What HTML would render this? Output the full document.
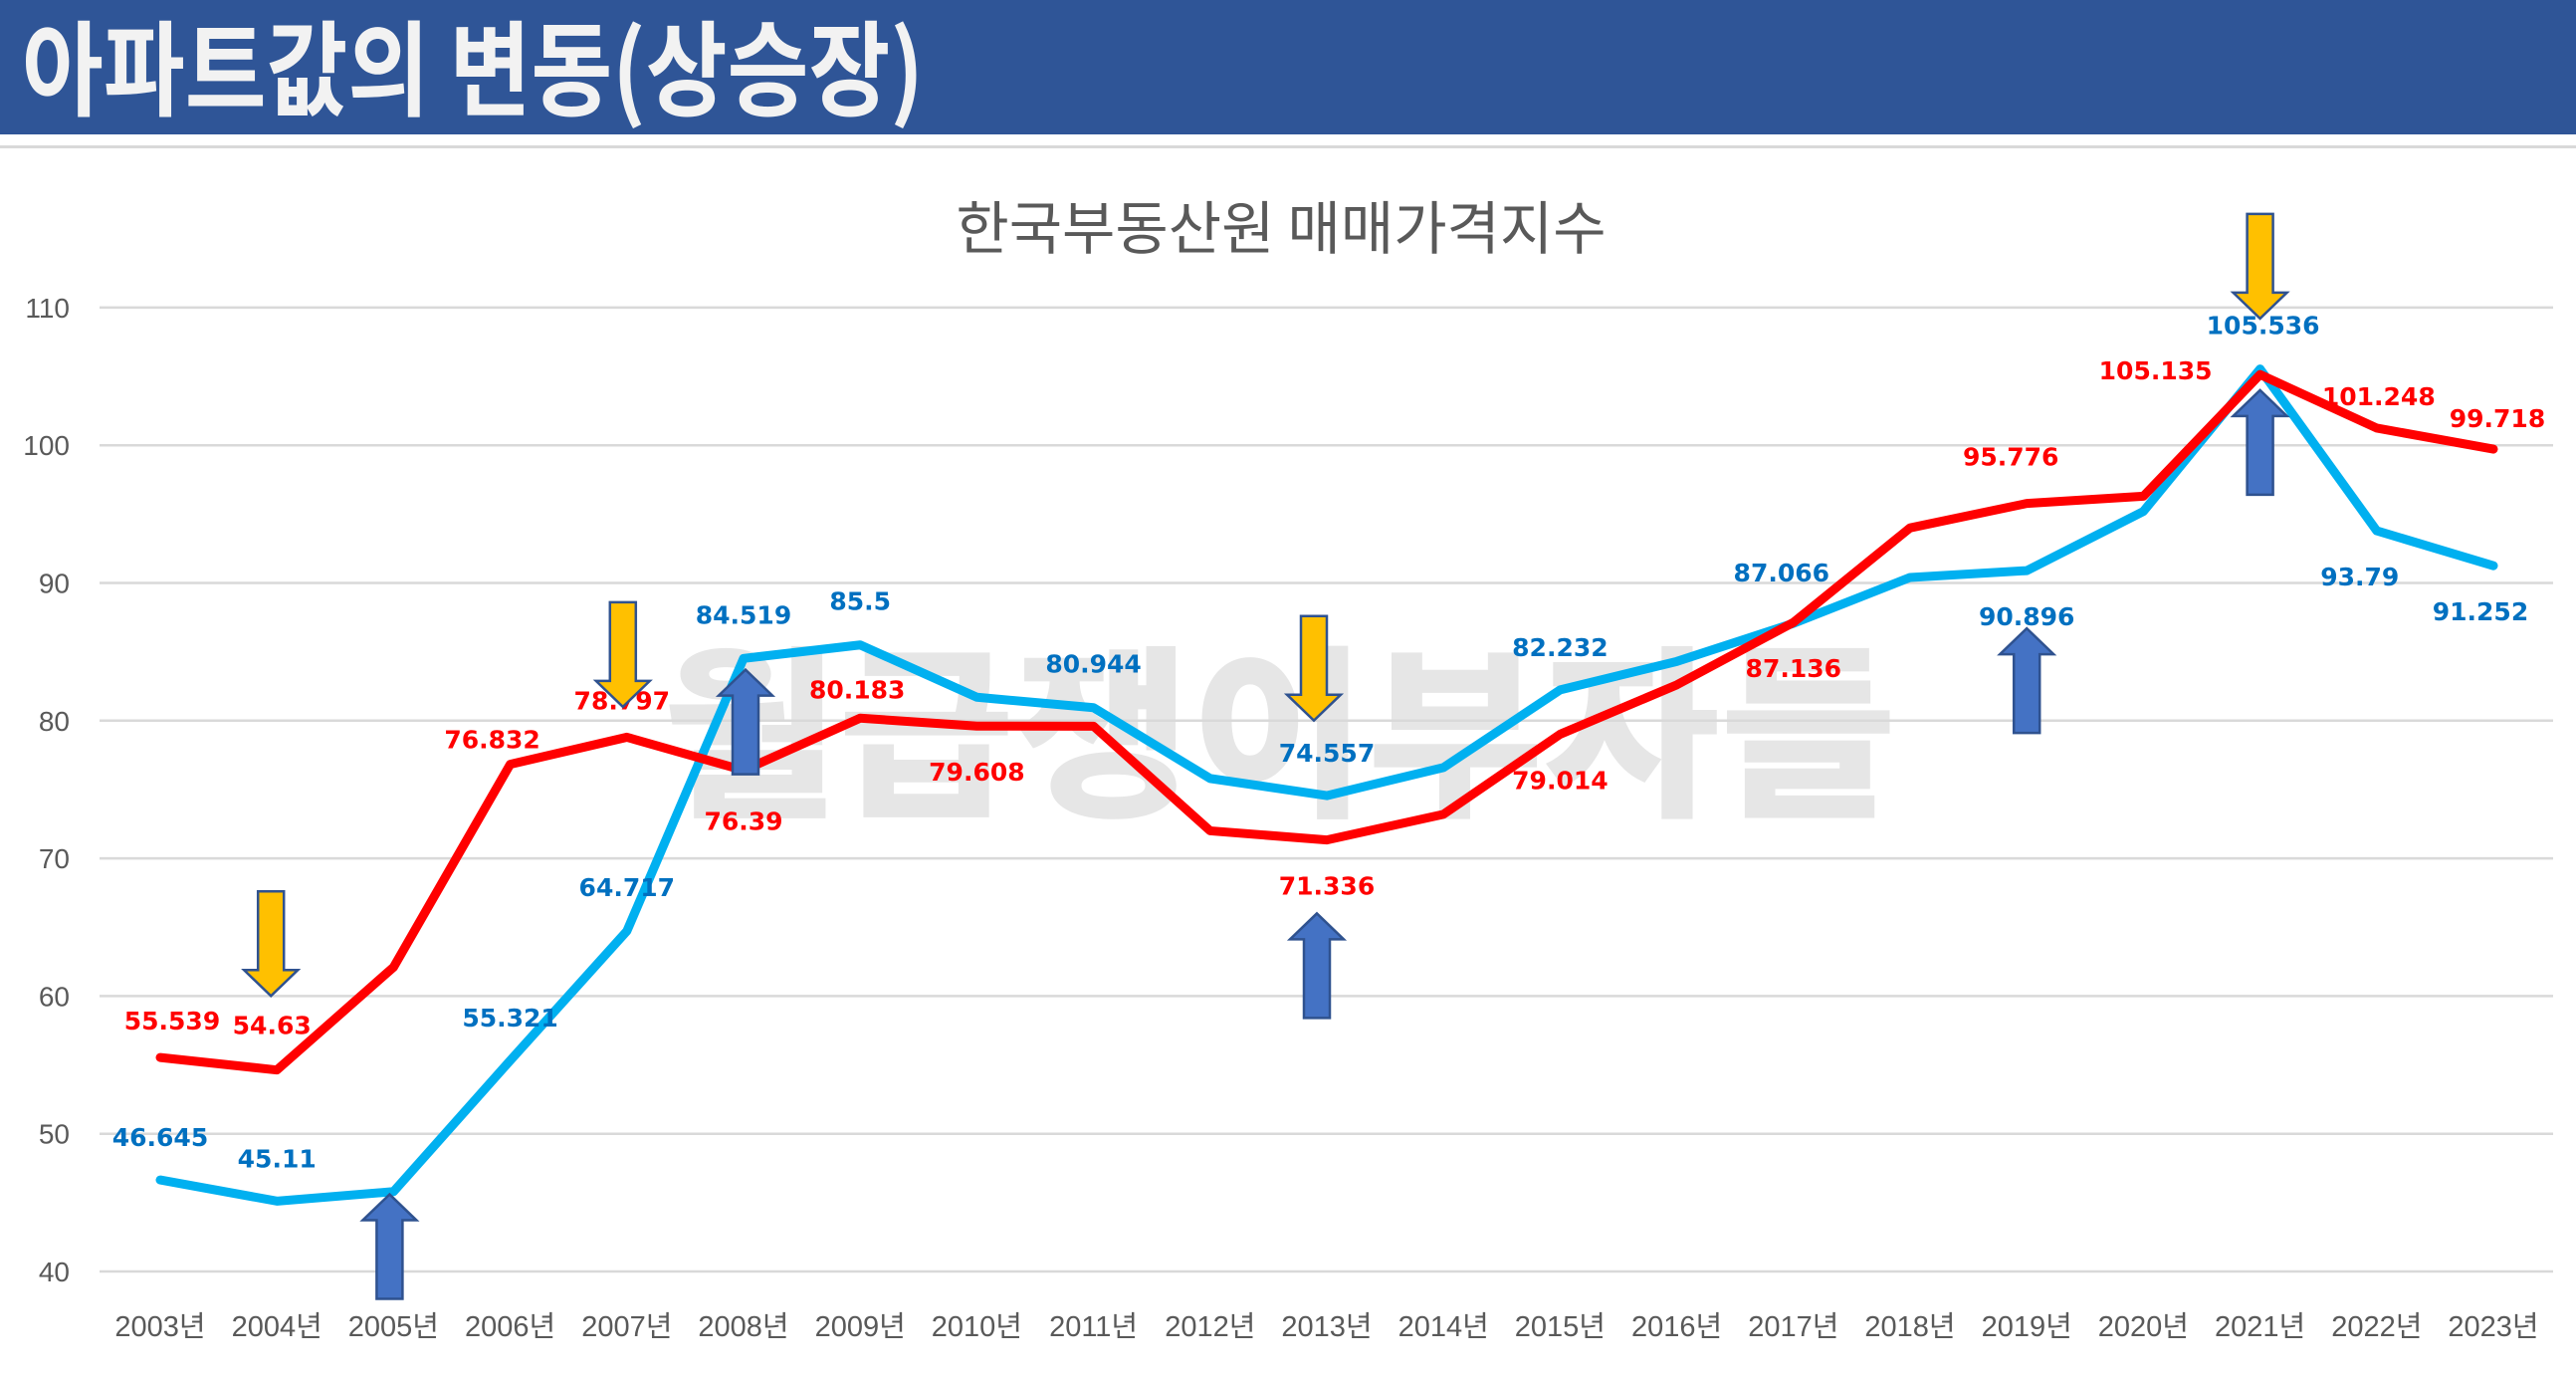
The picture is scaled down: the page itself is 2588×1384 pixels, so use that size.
<!DOCTYPE html>
<html><head><meta charset="utf-8">
<style>
html,body{margin:0;padding:0;background:#fff;}
body{width:2588px;height:1384px;overflow:hidden;}
svg{display:block;}
</style></head>
<body>
<svg id="chart" width="2588" height="1384" viewBox="0 0 2588 1384" xmlns="http://www.w3.org/2000/svg">
  <rect x="0" y="0" width="2588" height="135" fill="#2f5597"/>
  <text x="22" y="108" font-family="'Noto Sans CJK KR', sans-serif" font-weight="bold" font-size="104" fill="#f2f2f2" textLength="906" lengthAdjust="spacingAndGlyphs">아파트값의 변동(상승장)</text>
  <rect x="0" y="146" width="2588" height="3" fill="#d9d9d9"/>
  <text x="1285" y="805" text-anchor="middle" font-family="'Noto Sans CJK KR', sans-serif" font-weight="900" font-size="185" fill="#e6e6e6" textLength="1240" lengthAdjust="spacingAndGlyphs">월급쟁이부자들</text>
  <text x="1287" y="250" text-anchor="middle" font-family="'Noto Sans CJK KR', sans-serif" font-size="58" fill="#595959">한국부동산원 매매가격지수</text>
  <g id="grid"></g>
  <g id="xlabels"></g>
  <g id="lines"></g>
  <g id="labels"></g>
  <g id="arrows"></g>
</svg>
<script>
const years = ["2003년","2004년","2005년","2006년","2007년","2008년","2009년","2010년","2011년","2012년","2013년","2014년","2015년","2016년","2017년","2018년","2019년","2020년","2021년","2022년","2023년"];
const redValues = [55.539,54.63,62.1,76.832,78.797,76.39,80.183,79.608,79.6,72.0,71.336,73.2,79.014,82.6,87.136,94.0,95.776,96.3,105.135,101.248,99.718];
const blueValues = [46.645,45.11,45.8,55.321,64.717,84.519,85.5,81.7,80.944,75.8,74.557,76.6,82.232,84.3,87.066,90.4,90.896,95.2,105.536,93.79,91.252];
const yTicks = [40,50,60,70,80,90,100,110];
const redLabelIdx = [0,1,3,4,5,6,7,10,12,14,16,18,19,20];
const blueLabelIdx = [0,1,3,4,5,6,8,10,12,14,16,18,19,20];
// label offsets (px) relative to point
const redOff = {0:[12,-28],1:[-5,-36],3:[-18,-16],4:[-5,-28],5:[0,60],6:[-3,-20],7:[0,55],10:[0,55],12:[0,55],14:[0,55],16:[-16,-38],18:[-105,5],19:[2,-23],20:[4,-22]};
const blueOff = {0:[0,-34],1:[0,-34],3:[0,-34],4:[0,-35],5:[0,-35],6:[0,-35],8:[0,-35],10:[0,-34],12:[0,-34],14:[-12,-42],16:[0,55],18:[3,-35],19:[-17,55],20:[-13,55]};
const downArrows = [[1,67.6,-6],[4,88.6,-4],[10,87.6,-13],[18,116.8,0]]; // [index, top value, x nudge px]
const upArrows = [[2,45.6,-4],[5,83.7,2],[10,66,-10],[16,86.7,0],[18,104,0]];

const NS="http://www.w3.org/2000/svg";
const x0=161, dx=117.2, yBase=1277, pxPerUnit=13.83;
function xs(i){return x0+dx*i;}
function ys(v){return yBase-(v-40)*pxPerUnit;}
function mk(tag,attrs,parent){const e=document.createElementNS(NS,tag);for(const k in attrs)e.setAttribute(k,attrs[k]);parent.appendChild(e);return e;}
const grid=document.getElementById('grid');
yTicks.forEach(t=>{
  const l=mk('line',{x1:100,x2:2565,y1:ys(t),y2:ys(t),stroke:'#d9d9d9','stroke-width':2.5},grid);
  
  
  const tx=mk('text',{x:70,y:ys(t)+10,'text-anchor':'end','font-family':"'Liberation Sans', sans-serif",'font-size':28,fill:'#595959'},grid);
  tx.textContent=t;
  
  
});
const xl=document.getElementById('xlabels');
years.forEach((y,i)=>{
  const t=mk('text',{x:xs(i),y:1342,'text-anchor':'middle','font-family':"'Liberation Sans','Noto Sans CJK KR', sans-serif",'font-size':29,fill:'#595959'},xl);
  t.textContent=y;
  
  
});
const lines=document.getElementById('lines');
function pts(a){return a.map((v,i)=>xs(i)+','+ys(v)).join(' ');}
const bl=mk('polyline',{points:pts(blueValues),fill:'none',stroke:'#00b0f0','stroke-width':9,'stroke-linejoin':'round','stroke-linecap':'round'},lines);


const rl=mk('polyline',{points:pts(redValues),fill:'none',stroke:'#ff0000','stroke-width':9,'stroke-linejoin':'round','stroke-linecap':'round'},lines);


const lg=document.getElementById('labels');
function addLabels(idx,vals,off,color,name){
  idx.forEach(i=>{
    const o=off[i]||[0,-34];
    const t=mk('text',{x:xs(i)+o[0],y:ys(vals[i])+o[1],'text-anchor':'middle','font-family':"'DejaVu Sans', sans-serif",'font-weight':'bold','font-size':25,fill:color},lg);
    t.textContent=String(vals[i]);
    
    
  });
}
addLabels(redLabelIdx,redValues,redOff,'#ff0000','red');
addLabels(blueLabelIdx,blueValues,blueOff,'#0070c0','blue');
const ag=document.getElementById('arrows');
function arrowPath(cx,top,dir){
  const H=105,sw=13,hw=27,hh=26;
  const b=top+H;
  if(dir==='down'){return `M${cx-sw},${top} L${cx+sw},${top} L${cx+sw},${b-hh} L${cx+hw},${b-hh} L${cx},${b} L${cx-hw},${b-hh} L${cx-sw},${b-hh} Z`;}
  return `M${cx},${top} L${cx+hw},${top+hh} L${cx+sw},${top+hh} L${cx+sw},${b} L${cx-sw},${b} L${cx-sw},${top+hh} L${cx-hw},${top+hh} Z`;
}
downArrows.forEach(([i,v,n])=>{
  const p=mk('path',{d:arrowPath(xs(i)+n,ys(v),'down'),fill:'#ffc000',stroke:'#2f528f','stroke-width':2.5},ag);
  
  
});
upArrows.forEach(([i,v,n])=>{
  const p=mk('path',{d:arrowPath(xs(i)+n,ys(v),'up'),fill:'#4472c4',stroke:'#2f528f','stroke-width':2.5},ag);
  
  
});
</script>
</body></html>
